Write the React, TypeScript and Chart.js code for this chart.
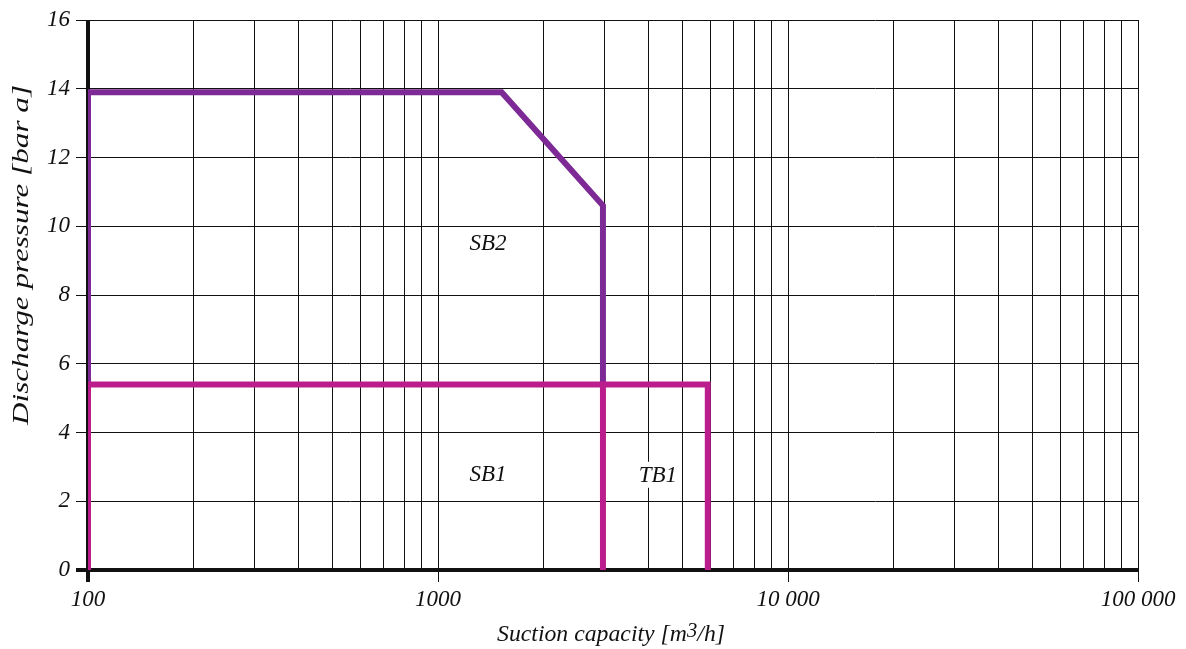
import React, { useEffect, useRef } from 'react';
import { Chart, registerables } from 'chart.js';

Chart.register(...registerables);

// ---- data ----
const xGridValues = [
  100, 200, 300, 400, 500, 600, 700, 800, 900,
  1000, 2000, 3000, 4000, 5000, 6000, 7000, 8000, 9000,
  10000, 20000, 30000, 40000, 50000, 60000, 70000, 80000, 90000,
  100000,
];
const xMajorValues = [100, 1000, 10000, 100000];
const xMajorLabels = ['100', '1000', '10 000', '100 000'];

const yMin = 0;
const yMax = 16;
const yStep = 2;

const sb2X = [100, 100, 1520, 2960, 2960];
const sb2Y = [5.4, 13.9, 13.9, 10.6, 5.4];
const sb1X = [100, 100, 2960, 2960];
const sb1Y = [0, 5.4, 5.4, 0];
const tb1X = [2960, 5900, 5900];
const tb1Y = [5.4, 5.4, 0];

const regionNames = ['SB2', 'SB1', 'TB1'];
const regionX = [1390, 1390, 4250];
const regionY = [9.5, 2.78, 2.77];

const yTitle = 'Discharge pressure [bar a]';
const xTitleParts = ['Suction capacity [m', '3', '/h]'];

const PURPLE = '#7e2a96';
const MAGENTA = '#bb1e8c';
const FONT = "'Liberation Serif', 'Times New Roman', serif";

const toPoints = (xs: number[], ys: number[]) => xs.map((x, i) => ({ x, y: ys[i] }));

const textPlugin = {
  id: 'customTexts',
  afterDatasetsDraw(chart: any) {
    const ctx = chart.ctx;
    const xs = chart.scales.x;
    const ys = chart.scales.y;
    ctx.save();
    ctx.font = `italic 23px ${FONT}`;
    ctx.textAlign = 'center';
    ctx.textBaseline = 'middle';
    regionNames.forEach((name, i) => {
      const px = xs.getPixelForValue(regionX[i]);
      const py = ys.getPixelForValue(regionY[i]);
      const w = ctx.measureText(name).width;
      ctx.fillStyle = '#ffffff';
      ctx.fillRect(px - w / 2 - 3, py - 13, w + 6, 26);
      ctx.fillStyle = '#111111';
      ctx.fillText(name, px, py + 1);
    });
    ctx.restore();
  },
  afterDraw(chart: any) {
    const ctx = chart.ctx;
    // y title
    ctx.save();
    ctx.font = `italic 23px ${FONT}`;
    ctx.fillStyle = '#111111';
    ctx.textAlign = 'center';
    ctx.textBaseline = 'alphabetic';
    const w = ctx.measureText(yTitle).width;
    ctx.translate(28, 255);
    ctx.rotate(-Math.PI / 2);
    ctx.scale(340 / w, 1);
    ctx.fillText(yTitle, 0, 0);
    ctx.restore();

    // x title
    ctx.save();
    ctx.fillStyle = '#111111';
    ctx.textAlign = 'left';
    ctx.textBaseline = 'alphabetic';
    const mainFont = `italic 23px ${FONT}`;
    const supFont = `italic 20px ${FONT}`;
    ctx.font = mainFont;
    const w0 = ctx.measureText(xTitleParts[0]).width;
    const w2 = ctx.measureText(xTitleParts[2]).width;
    ctx.font = supFont;
    const w1 = ctx.measureText(xTitleParts[1]).width;
    const total = w0 + w1 + w2;
    const sx = 228 / total;
    ctx.translate(611 - 114, 641);
    ctx.scale(sx, 1);
    ctx.font = mainFont;
    ctx.fillText(xTitleParts[0], 0, 0);
    ctx.font = supFont;
    ctx.fillText(xTitleParts[1], w0, -4);
    ctx.font = mainFont;
    ctx.fillText(xTitleParts[2], w0 + w1, 0);
    ctx.restore();
  },
};

export default function App() {
  const canvasRef = useRef<HTMLCanvasElement | null>(null);

  useEffect(() => {
    if (!canvasRef.current) return;
    const tickFont = { family: FONT, size: 23, style: 'italic' as const };
    const chart = new Chart(canvasRef.current, {
      type: 'line',
      data: {
        datasets: [
          {
            label: 'SB1',
            data: toPoints(sb1X, sb1Y),
            borderColor: MAGENTA,
            borderWidth: 6,
            pointRadius: 0,
            borderJoinStyle: 'miter',
            tension: 0,
            fill: false,
            order: 1,
          },
          {
            label: 'TB1',
            data: toPoints(tb1X, tb1Y),
            borderColor: MAGENTA,
            borderWidth: 6,
            pointRadius: 0,
            borderJoinStyle: 'miter',
            tension: 0,
            fill: false,
            order: 2,
          },
          {
            label: 'SB2',
            data: toPoints(sb2X, sb2Y),
            borderColor: PURPLE,
            borderWidth: 6,
            pointRadius: 0,
            borderJoinStyle: 'miter',
            tension: 0,
            fill: false,
            order: 3,
          },
        ],
      },
      options: {
        animation: false,
        responsive: true,
        maintainAspectRatio: false,
        layout: { padding: { top: 20, right: 48, left: 0, bottom: 0 } },
        plugins: {
          legend: { display: false },
          tooltip: { enabled: false },
          title: { display: false },
        },
        scales: {
          x: {
            type: 'logarithmic',
            min: 100,
            max: 100000,
            afterBuildTicks: (s: any) => {
              s.ticks = xGridValues.map((v) => ({ value: v, major: xMajorValues.includes(v) }));
            },
            afterFit: (s: any) => {
              s.height = 79;
            },
            ticks: {
              autoSkip: false,
              maxRotation: 0,
              minRotation: 0,
              padding: 4,
              color: '#111111',
              font: tickFont,
              callback: (v: any) => {
                const i = xMajorValues.indexOf(Number(v));
                return i >= 0 ? xMajorLabels[i] : '';
              },
            },
            grid: {
              color: '#111111',
              lineWidth: (c: any) => (c.tick && c.tick.value === 100 ? 4 : 1),
              tickLength: 12,
              tickColor: (c: any) =>
                c.tick && xMajorValues.includes(c.tick.value) ? '#111111' : 'rgba(0,0,0,0)',
            },
            border: { display: false },
          },
          y: {
            type: 'linear',
            min: yMin,
            max: yMax,
            afterFit: (s: any) => {
              s.width = 88;
            },
            ticks: {
              stepSize: yStep,
              padding: 6,
              color: '#111111',
              font: tickFont,
            },
            grid: {
              color: '#111111',
              lineWidth: (c: any) => (c.tick && c.tick.value === 0 ? 4 : 1),
              tickLength: 12,
            },
            border: { display: false },
          },
        },
      },
      plugins: [textPlugin],
    });
    return () => chart.destroy();
  }, []);

  return (
    <div style={{ position: 'fixed', left: 0, top: 0, width: 1186, height: 649, background: '#fff' }}>
      <canvas ref={canvasRef} />
    </div>
  );
}
